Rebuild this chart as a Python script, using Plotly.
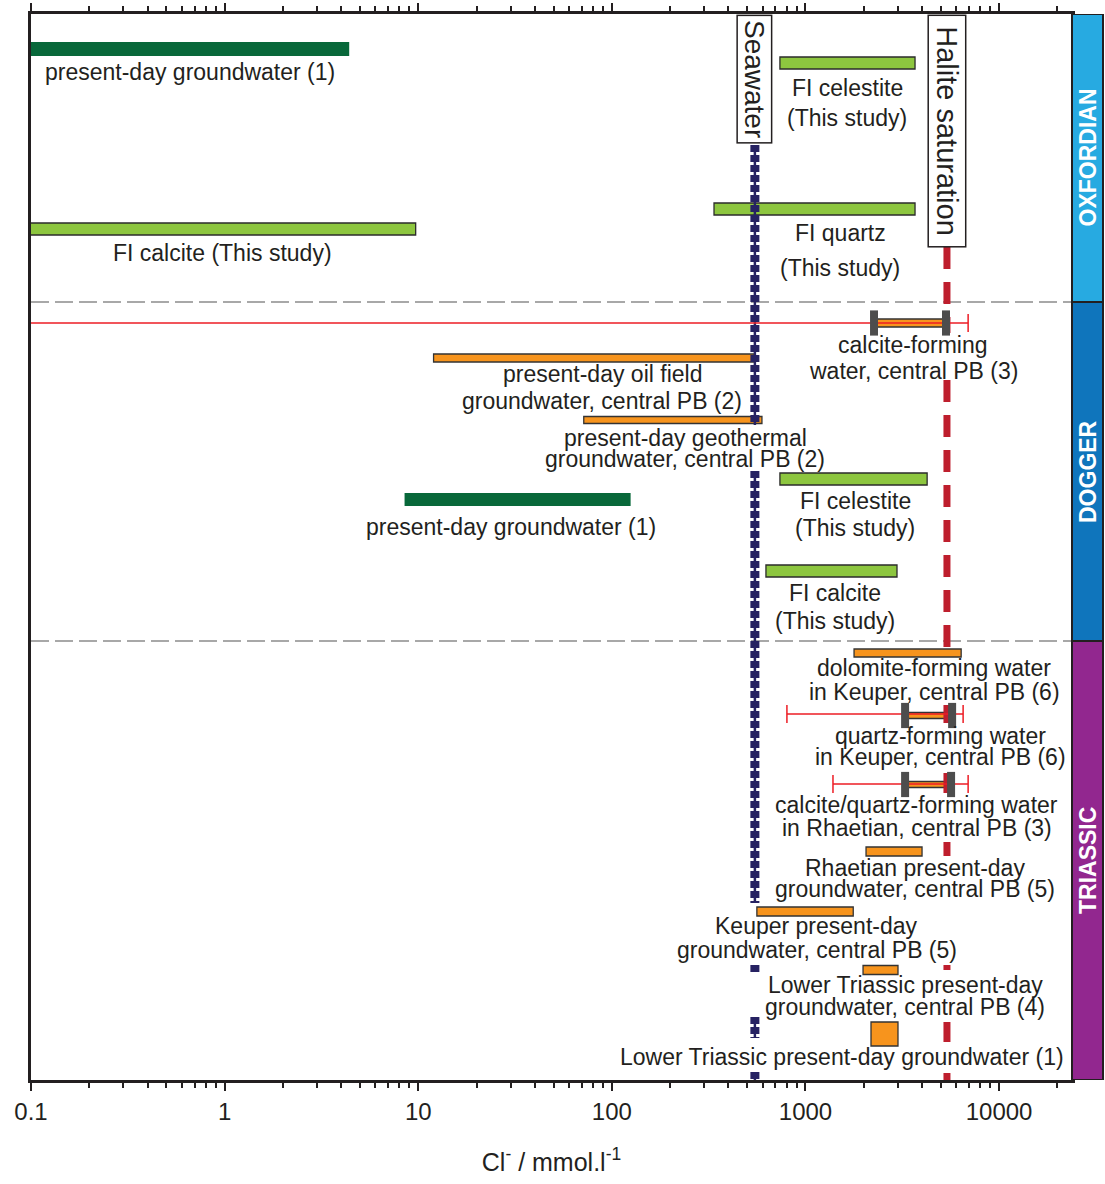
import math

import plotly.graph_objects as go

FONT = "Liberation Sans, Arial, sans-serif"
INK = "#231f20"

# Cl- concentrations in mmol/l; y = row centre (downwards)
seawater_cl = 548
halite_cl = 5380

# stretches of the two reference lines hidden behind text labels (y from top)
seawater_hidden = [(425, 471), (903, 965), (972, 1017), (1038, 1072)]
halite_hidden = [(333, 380), (657, 705), (723, 773), (793, 842), (856, 965),
                 (970, 1022), (1042, 1073)]

dark_green_lo = [0.05, 8.5]
dark_green_hi = [4.4, 125]
dark_green_y = [49, 499.5]
dark_green_h = [14, 13]

light_green_lo = [738, 337, 0.05, 738, 625]
light_green_hi = [3680, 3680, 9.7, 4250, 2970]
light_green_y = [63, 209, 229, 479, 571]
light_green_h = [12, 12, 12, 12, 12]

orange_lo = [2260, 12.0, 71.6, 1782, 3270, 3270, 2055, 561, 1983, 2180]
orange_hi = [5320, 548, 596, 6370, 5720, 5650, 4000, 1765, 3005, 3005]
orange_y = [323, 358, 420, 653, 715.5, 784.5, 851.5, 911.5, 970, 1034]
orange_h = [8, 8, 7, 8, 6, 6, 9, 9, 9, 24]

whisker_lo = [0.05, 802, 1387]
whisker_hi = [6920, 6520, 6920]
whisker_y = [323, 714, 784]

cap_x = [2260, 5320, 3270, 5720, 3270, 5650]
cap_y = [323, 323, 715.5, 715.5, 784.5, 784.5]

period_names = ["OXFORDIAN", "DOGGER", "TRIASSIC"]
period_bounds = [14, 302, 641, 1080]
period_colors = ["#27aae1", "#0f75bc", "#92278f"]

tick_vals = [0.1, 1, 10, 100, 1000, 10000]
tick_text = ["0.1", "1", "10", "100", "1000", "10000"]

label_text = [
    "present-day groundwater (1)",
    "FI celestite", "(This study)",
    "FI quartz", "(This study)",
    "FI calcite (This study)",
    "calcite-forming", "water, central PB (3)",
    "present-day oil field", "groundwater, central PB (2)",
    "present-day geothermal", "groundwater, central PB (2)",
    "present-day groundwater (1)",
    "FI celestite", "(This study)",
    "FI calcite", "(This study)",
    "dolomite-forming water", "in Keuper, central PB (6)",
    "quartz-forming water", "in Keuper, central PB (6)",
    "calcite/quartz-forming water", "in Rhaetian, central PB (3)",
    "Rhaetian present-day", "groundwater, central PB (5)",
    "Keuper present-day", "groundwater, central PB (5)",
    "Lower Triassic present-day", "groundwater, central PB (4)",
    "Lower Triassic present-day groundwater (1)",
]
label_x = [
    0.66,
    1640, 1640,
    1510, 1510,
    0.98,
    3600, 3600,
    89, 89,
    240, 240,
    30,
    1810, 1810,
    1420, 1420,
    4620, 4620,
    5010, 5010,
    3750, 3750,
    3680, 3680,
    1146, 1146,
    3270, 3270,
    1545,
]
label_y = [
    72,
    88, 118,
    233, 268,
    253,
    345, 371,
    374, 401,
    438, 459,
    527,
    501, 528,
    593, 621,
    668, 692,
    736, 757,
    805, 828,
    868, 889,
    926, 950,
    985, 1007,
    1057,
]


def visible_segments(x, top, bottom, hidden):
    xs, ys = [], []
    start = top
    for a, b in hidden + [(bottom, bottom)]:
        if a > start:
            xs += [x, x, None]
            ys += [start, a, None]
        start = b
    return xs, ys


fig = go.Figure()

# reference lines
sx, sy = visible_segments(seawater_cl, 145, 1080, seawater_hidden)
fig.add_trace(go.Scatter(x=sx, y=sy, mode="lines",
                         line=dict(color="#262262", width=2.5), hoverinfo="skip"))
fig.add_trace(go.Scatter(x=sx, y=sy, mode="lines",
                         line=dict(color="#262262", width=9, dash="7px,3px"), hoverinfo="skip"))
hx, hy = visible_segments(halite_cl, 247, 1080, halite_hidden)
fig.add_trace(go.Scatter(x=hx, y=hy, mode="lines",
                         line=dict(color="#be1e2d", width=7, dash="22px,13px"), hoverinfo="skip"))

# error whiskers
wx, wy = [], []
for lo, hi, yy in zip(whisker_lo, whisker_hi, whisker_y):
    wx += [lo, hi, None]
    wy += [yy, yy, None]
fig.add_trace(go.Scatter(x=wx, y=wy, mode="lines", line=dict(color="#ed1c24", width=1.3),
                         hoverinfo="skip"))
fig.add_trace(go.Scatter(x=whisker_lo + whisker_hi, y=whisker_y + whisker_y, mode="markers",
                         marker=dict(symbol="line-ns", size=13, color="#ed1c24",
                                     line=dict(width=1.5, color="#ed1c24")),
                         hoverinfo="skip"))


# range bars
def add_bars(lo, hi, yc, h, color, outline, lw):
    fig.add_trace(go.Bar(
        y=yc, base=lo, x=[b - a for a, b in zip(lo, hi)], width=h,
        orientation="h", marker=dict(color=color, line=dict(color=outline, width=lw)),
        hoverinfo="skip",
    ))


add_bars(dark_green_lo, dark_green_hi, dark_green_y, dark_green_h, "#08683a", "#08683a", 0)
add_bars(light_green_lo, light_green_hi, light_green_y, light_green_h, "#8dc63f", "#2b2b2b", 1.3)
add_bars(orange_lo, orange_hi, orange_y, orange_h, "#f7941d", "#333333", 1.3)

fig.add_trace(go.Scatter(x=cap_x, y=cap_y, mode="markers",
                         marker=dict(symbol="line-ns", size=18, color="#4d4d4d",
                                     line=dict(width=8, color="#4d4d4d")),
                         hoverinfo="skip"))

# text labels
for t, x, y in zip(label_text, label_x, label_y):
    fig.add_annotation(x=math.log10(x), y=y, text=t, showarrow=False,
                       xanchor="center", yanchor="middle",
                       font=dict(size=23, color=INK, family=FONT))

fig.add_annotation(x=math.log10(seawater_cl), y=15, text="Seawater", textangle=90,
                   showarrow=False, yanchor="top", bgcolor="white", bordercolor=INK,
                   borderwidth=1.5, borderpad=1, width=124,
                   font=dict(size=28, color=INK, family=FONT))
fig.add_annotation(x=math.log10(halite_cl), y=15, text="Halite saturation", textangle=90,
                   showarrow=False, yanchor="top", bgcolor="white", bordercolor=INK,
                   borderwidth=1.5, borderpad=2, width=226,
                   font=dict(size=29, color=INK, family=FONT))

# period separators and side panels
for yb in period_bounds[1:-1]:
    fig.add_shape(type="line", xref="paper", yref="y", x0=0, x1=1, y0=yb, y1=yb,
                  line=dict(color="#8c8c8c", width=1.5, dash="18px,6px"), layer="below")

px_w = 1041
for name, y0, y1, col in zip(period_names, period_bounds[:-1], period_bounds[1:], period_colors):
    fig.add_shape(type="rect", xref="paper", yref="y", x0=1, x1=1 + 31 / px_w, y0=y0, y1=y1,
                  fillcolor=col, line=dict(color="#231f20", width=2))
    fig.add_annotation(xref="paper", yref="y", x=1 + 15.5 / px_w, y=(y0 + y1) / 2,
                       xanchor="center", yanchor="middle",
                       text=f"<b>{name}</b>", textangle=-90, showarrow=False,
                       font=dict(size=23, color="white", family=FONT))

fig.update_xaxes(
    type="log", range=[-1, math.log10(23800)],
    tickmode="array", tickvals=tick_vals, ticktext=tick_text,
    ticks="outside", ticklen=8, tickwidth=2, tickcolor=INK,
    minor=dict(ticks="outside", ticklen=5, tickwidth=1.5, tickcolor=INK, dtick="D1", showgrid=False),
    showline=True, linewidth=2.5, linecolor=INK, mirror="ticks", showgrid=False, zeroline=False,
    tickfont=dict(size=24, color=INK, family=FONT), automargin=False,
    title=dict(text="Cl<sup>-</sup> / mmol.l<sup>-1</sup>", standoff=30,
               font=dict(size=25, color=INK, family=FONT)),
)
fig.update_yaxes(
    range=[1080, 14], showticklabels=False, ticks="", showgrid=False, zeroline=False,
    showline=True, linewidth=2.5, linecolor=INK, mirror=True, automargin=False,
)

fig.update_layout(
    width=1105, height=1184,
    margin=dict(l=31, r=33, t=14, b=104),
    barmode="overlay", showlegend=False,
    plot_bgcolor="white", paper_bgcolor="white",
    font=dict(family=FONT, color=INK),
)

# drop the default page margin so the full-window figure is not pushed off-screen
fig.write_html("out.html", config={"displayModeBar": False},
               post_script="document.body.style.margin='0';document.body.style.overflow='hidden';")
